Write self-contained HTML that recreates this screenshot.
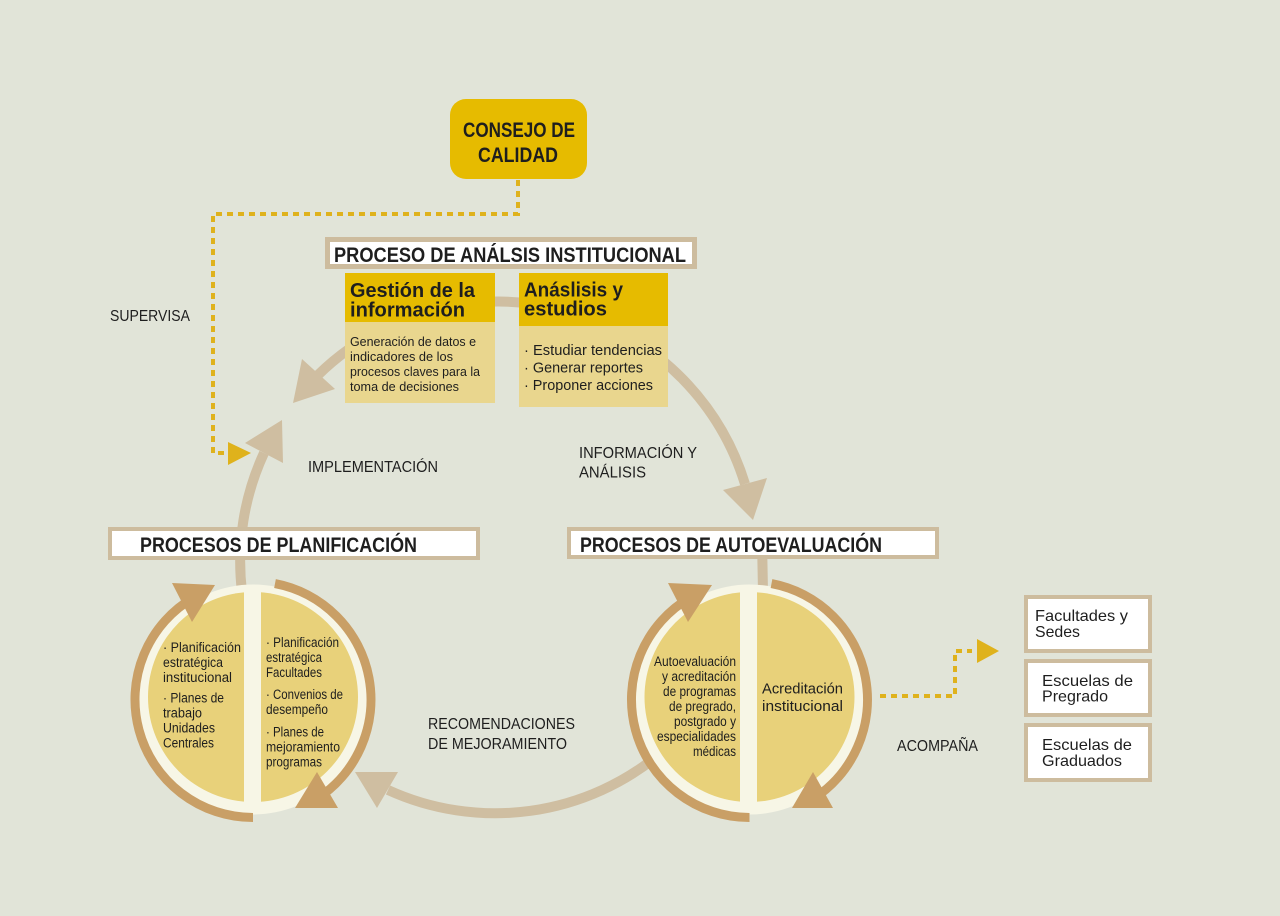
<!DOCTYPE html>
<html>
<head>
<meta charset="utf-8">
<style>
html,body{margin:0;padding:0;background:#e1e4d8;}
svg{display:block;}
text{font-family:"Liberation Sans",sans-serif;fill:#1e1e1e;}
.b{font-weight:bold;}
</style>
</head>
<body>
<svg width="1280" height="916" viewBox="0 0 1280 916" xmlns="http://www.w3.org/2000/svg">
<rect x="0" y="0" width="1280" height="916" fill="#e1e4d8"/>

<!-- dotted connectors -->
<path d="M518 180 L518 214 L213 214 L213 453 L230 453" fill="none" stroke="#dfb21c" stroke-width="4" stroke-dasharray="6 5"/>
<polygon points="228,442 251,453 228,465" fill="#dfb21c"/>
<path d="M880 696 L955 696 L955 651 L972 651" fill="none" stroke="#dfb21c" stroke-width="4" stroke-dasharray="6 5"/>
<polygon points="977,639 999,651 977,663" fill="#dfb21c"/>

<!-- big cycle arcs -->
<g fill="none" stroke="#cfbea1" stroke-width="10">
<path d="M242 592 A258 258 0 0 1 264 453"/>
<path d="M318 375 A258 258 0 0 1 745 484"/>
<path d="M762 540 L763 592"/>
<path d="M662 752 A258 258 0 0 1 388 790"/>
</g>
<g fill="#cfbea1">
<polygon points="282,420 245,443 283,463"/>
<polygon points="293,403 302,359 335,389"/>
<polygon points="753,520 723,490 767,478"/>
<polygon points="355,772 398,772 377,808"/>
</g>

<!-- Consejo -->
<rect x="450" y="99" width="137" height="80" rx="16" fill="#e6bb00"/>
<text class="b" x="463" y="137" font-size="21" textLength="112" lengthAdjust="spacingAndGlyphs">CONSEJO DE</text>
<text class="b" x="478" y="162" font-size="21" textLength="80" lengthAdjust="spacingAndGlyphs">CALIDAD</text>

<!-- Frames -->
<g fill="#ffffff" stroke="#cdbc9e">
<rect x="327.5" y="239.5" width="367" height="27" stroke-width="5"/>
<rect x="110" y="529" width="368" height="29" stroke-width="4"/>
<rect x="569" y="529" width="368" height="28" stroke-width="4"/>
<rect x="1026" y="597" width="124" height="54" stroke-width="4"/>
<rect x="1026" y="661" width="124" height="54" stroke-width="4"/>
<rect x="1026" y="725" width="124" height="55" stroke-width="4"/>
</g>
<text class="b" x="334" y="262" font-size="21" textLength="352" lengthAdjust="spacingAndGlyphs">PROCESO DE ANÁLSIS INSTITUCIONAL</text>
<text class="b" x="140" y="552" font-size="21" textLength="277" lengthAdjust="spacingAndGlyphs">PROCESOS DE PLANIFICACIÓN</text>
<text class="b" x="580" y="552" font-size="21" textLength="302" lengthAdjust="spacingAndGlyphs">PROCESOS DE AUTOEVALUACIÓN</text>

<!-- Gestión / Análisis boxes -->
<rect x="345" y="273" width="150" height="130" fill="#e9d68e"/>
<rect x="345" y="273" width="150" height="49" fill="#e6bb00"/>
<rect x="519" y="273" width="149" height="134" fill="#e9d68e"/>
<rect x="519" y="273" width="149" height="53" fill="#e6bb00"/>
<text class="b" x="350" y="297" font-size="20" textLength="125" lengthAdjust="spacingAndGlyphs">Gestión de la</text>
<text class="b" x="350" y="316.5" font-size="20" textLength="115" lengthAdjust="spacingAndGlyphs">información</text>
<text class="b" x="524" y="296.5" font-size="20" textLength="99" lengthAdjust="spacingAndGlyphs">Anáslisis y</text>
<text class="b" x="524" y="315.5" font-size="20" textLength="83" lengthAdjust="spacingAndGlyphs">estudios</text>
<g font-size="13">
<text x="350" y="346" textLength="126" lengthAdjust="spacingAndGlyphs">Generación de datos e</text>
<text x="350" y="361" textLength="103" lengthAdjust="spacingAndGlyphs">indicadores de los</text>
<text x="350" y="376" textLength="130" lengthAdjust="spacingAndGlyphs">procesos claves para la</text>
<text x="350" y="391" textLength="109" lengthAdjust="spacingAndGlyphs">toma de decisiones</text>
</g>
<g font-size="15">
<text x="524" y="355" textLength="138" lengthAdjust="spacingAndGlyphs">· Estudiar tendencias</text>
<text x="524" y="372.5" textLength="119" lengthAdjust="spacingAndGlyphs">· Generar reportes</text>
<text x="524" y="390" textLength="129" lengthAdjust="spacingAndGlyphs">· Proponer acciones</text>
</g>

<!-- Labels -->
<g font-size="16">
<text x="110" y="321" font-size="15.5" textLength="80" lengthAdjust="spacingAndGlyphs">SUPERVISA</text>
<text x="308" y="472" textLength="130" lengthAdjust="spacingAndGlyphs">IMPLEMENTACIÓN</text>
<text x="579" y="458" textLength="118" lengthAdjust="spacingAndGlyphs">INFORMACIÓN Y</text>
<text x="579" y="477.5" textLength="67" lengthAdjust="spacingAndGlyphs">ANÁLISIS</text>
<text x="428" y="729" textLength="147" lengthAdjust="spacingAndGlyphs">RECOMENDACIONES</text>
<text x="428" y="749" textLength="139" lengthAdjust="spacingAndGlyphs">DE MEJORAMIENTO</text>
<text x="897" y="751" textLength="81" lengthAdjust="spacingAndGlyphs">ACOMPAÑA</text>
<text x="1035" y="621" textLength="93" lengthAdjust="spacingAndGlyphs">Facultades y</text>
<text x="1035" y="637" textLength="45" lengthAdjust="spacingAndGlyphs">Sedes</text>
<text x="1042" y="686" textLength="91" lengthAdjust="spacingAndGlyphs">Escuelas  de</text>
<text x="1042" y="701.5" textLength="66" lengthAdjust="spacingAndGlyphs">Pregrado</text>
<text x="1042" y="750" textLength="90" lengthAdjust="spacingAndGlyphs">Escuelas de</text>
<text x="1042" y="766" textLength="80" lengthAdjust="spacingAndGlyphs">Graduados</text>
</g>

<!-- Left circle -->
<circle cx="253" cy="699.5" r="115" fill="#f7f6e6"/>
<circle cx="253" cy="697" r="105" fill="#e8d17a"/>
<rect x="244" y="586" width="17" height="228" fill="#f7f6e6"/>
<g fill="none" stroke="#c99f66" stroke-width="9">
<path d="M194 597.3 A118 118 0 0 0 253 817.5"/>
<path d="M275 583.6 A118 118 0 0 1 315.5 799.6"/>
</g>
<g fill="#c99f66">
<polygon points="172,583 215,585 192,622"/>
<polygon points="295,808 338,808 317,772"/>
</g>
<g font-size="13.5">
<text x="163" y="652" textLength="78" lengthAdjust="spacingAndGlyphs">· Planificación</text>
<text x="163" y="667" textLength="60" lengthAdjust="spacingAndGlyphs">estratégica</text>
<text x="163" y="682" textLength="69" lengthAdjust="spacingAndGlyphs">institucional</text>
<text x="163" y="702.5" textLength="61" lengthAdjust="spacingAndGlyphs">· Planes de</text>
<text x="163" y="717.5" textLength="39" lengthAdjust="spacingAndGlyphs">trabajo</text>
<text x="163" y="732.5" textLength="52" lengthAdjust="spacingAndGlyphs">Unidades</text>
<text x="163" y="747.5" textLength="51" lengthAdjust="spacingAndGlyphs">Centrales</text>
<text x="266" y="647" textLength="73" lengthAdjust="spacingAndGlyphs">· Planificación</text>
<text x="266" y="662" textLength="56" lengthAdjust="spacingAndGlyphs">estratégica</text>
<text x="266" y="677" textLength="56" lengthAdjust="spacingAndGlyphs">Facultades</text>
<text x="266" y="699" textLength="77" lengthAdjust="spacingAndGlyphs">· Convenios de</text>
<text x="266" y="714" textLength="62" lengthAdjust="spacingAndGlyphs">desempeño</text>
<text x="266" y="736.5" textLength="58" lengthAdjust="spacingAndGlyphs">· Planes de</text>
<text x="266" y="751.5" textLength="74" lengthAdjust="spacingAndGlyphs">mejoramiento</text>
<text x="266" y="766.5" textLength="56" lengthAdjust="spacingAndGlyphs">programas</text>
</g>

<!-- Right circle -->
<circle cx="749.5" cy="699.5" r="115" fill="#f7f6e6"/>
<circle cx="749.5" cy="697" r="105" fill="#e8d17a"/>
<rect x="740" y="586" width="17" height="228" fill="#f7f6e6"/>
<g fill="none" stroke="#c99f66" stroke-width="9">
<path d="M690.5 597.3 A118 118 0 0 0 749.5 817.5"/>
<path d="M771.5 583.6 A118 118 0 0 1 812 799.6"/>
</g>
<g fill="#c99f66">
<polygon points="668,583 712,585 688,622"/>
<polygon points="792,808 833,808 813,772"/>
</g>
<g font-size="13.5">
<text x="654" y="666" textLength="82" lengthAdjust="spacingAndGlyphs">Autoevaluación</text>
<text x="662" y="681" textLength="74" lengthAdjust="spacingAndGlyphs">y acreditación</text>
<text x="663" y="696" textLength="73" lengthAdjust="spacingAndGlyphs">de programas</text>
<text x="669" y="711" textLength="67" lengthAdjust="spacingAndGlyphs">de pregrado,</text>
<text x="674" y="726" textLength="62" lengthAdjust="spacingAndGlyphs">postgrado y</text>
<text x="657" y="741" textLength="79" lengthAdjust="spacingAndGlyphs">especialidades</text>
<text x="693" y="756" textLength="43" lengthAdjust="spacingAndGlyphs">médicas</text>
</g>
<g font-size="15">
<text x="762" y="693.5" textLength="81" lengthAdjust="spacingAndGlyphs">Acreditación</text>
<text x="762" y="711" textLength="81" lengthAdjust="spacingAndGlyphs">institucional</text>
</g>
</svg>
</body>
</html>
